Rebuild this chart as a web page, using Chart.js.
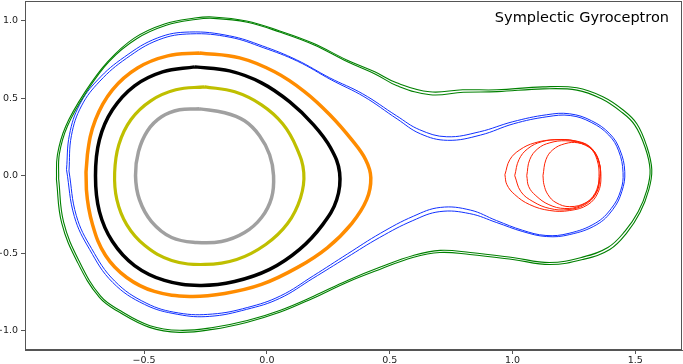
<!DOCTYPE html>
<html lang="en">
  <head>
    <meta charset="UTF-8" />
    <title>Symplectic Gyroceptron</title>
    <style>
      html, body { margin: 0; padding: 0; background: #fff; }
      #wrap { width: 683px; height: 364px; position: relative; }
    </style>
  </head>
  <body>
    <div id="wrap"><canvas id="phaseChart"></canvas></div>

    <script src="https://cdn.jsdelivr.net/npm/chart.js"></script>
    <script>
      // orbits, [q, p]
      const grayLoop = [
        [-0.274, 0.431], [-0.172, 0.406], [-0.091, 0.354], [-0.030, 0.258], [0.011, 0.135],
        [0.027, 0.0], [0.019, -0.142], [-0.022, -0.270], [-0.091, -0.367], [-0.185, -0.425],
        [-0.286, -0.431], [-0.388, -0.399], [-0.470, -0.296], [-0.519, -0.155], [-0.535, 0.0],
        [-0.523, 0.155], [-0.486, 0.290], [-0.429, 0.380], [-0.356, 0.425]
      ];
      const yellowLoop = [
        [-0.253, 0.573], [-0.131, 0.541], [-0.022, 0.457], [0.064, 0.335], [0.121, 0.180],
        [0.150, 0.019], [0.137, -0.142], [0.084, -0.309], [-0.005, -0.444], [-0.123, -0.541],
        [-0.253, -0.573], [-0.388, -0.547], [-0.497, -0.451], [-0.571, -0.316], [-0.611, -0.155],
        [-0.620, 0.019], [-0.603, 0.200], [-0.554, 0.361], [-0.473, 0.483], [-0.371, 0.554]
      ];
      const blackLoop = [
        [-0.294, 0.702], [-0.152, 0.676], [-0.022, 0.599], [0.093, 0.476], [0.190, 0.328],
        [0.259, 0.180], [0.296, 0.019], [0.284, -0.155], [0.227, -0.316], [0.133, -0.476],
        [0.011, -0.605], [-0.132, -0.683], [-0.274, -0.708], [-0.417, -0.676], [-0.539, -0.580],
        [-0.629, -0.425], [-0.682, -0.232], [-0.698, 0.0], [-0.682, 0.232], [-0.629, 0.425],
        [-0.539, 0.580], [-0.425, 0.670]
      ];
      const orangeLoop = [
        [-0.274, 0.792], [-0.111, 0.760], [0.031, 0.670], [0.154, 0.541], [0.256, 0.393],
        [0.345, 0.232], [0.402, 0.103], [0.423, -0.013], [0.406, -0.155], [0.345, -0.309],
        [0.247, -0.464], [0.125, -0.592], [-0.022, -0.702], [-0.172, -0.760], [-0.315, -0.779],
        [-0.458, -0.747], [-0.571, -0.657], [-0.657, -0.515], [-0.710, -0.316], [-0.735, -0.090],
        [-0.731, 0.135], [-0.698, 0.361], [-0.629, 0.554], [-0.527, 0.695], [-0.404, 0.773]
      ];
      const blueLoop = [
        [-0.816, 0.039], [-0.804, 0.264], [-0.763, 0.457], [-0.689, 0.618], [-0.580, 0.766],
        [-0.445, 0.889], [-0.315, 0.927], [-0.152, 0.902], [-0.018, 0.837], [0.121, 0.747],
        [0.256, 0.631], [0.390, 0.528], [0.528, 0.386], [0.622, 0.296], [0.732, 0.251],
        [0.866, 0.283], [1.001, 0.348], [1.139, 0.393], [1.233, 0.399], [1.322, 0.354],
        [1.396, 0.270], [1.437, 0.167], [1.457, 0.026], [1.445, -0.103], [1.408, -0.219],
        [1.343, -0.316], [1.233, -0.380], [1.139, -0.393], [1.042, -0.361], [0.936, -0.303],
        [0.826, -0.245], [0.704, -0.232], [0.594, -0.290], [0.459, -0.399], [0.325, -0.528],
        [0.187, -0.663], [0.052, -0.792], [-0.083, -0.863], [-0.233, -0.908], [-0.363, -0.895],
        [-0.498, -0.831], [-0.628, -0.689], [-0.722, -0.476], [-0.784, -0.264]
      ];
      const blueLoop2 = [
        [-0.806, 0.030], [-0.796, 0.258], [-0.755, 0.450], [-0.680, 0.610], [-0.572, 0.757],
        [-0.440, 0.877], [-0.310, 0.915], [-0.150, 0.893], [-0.015, 0.826], [0.125, 0.738],
        [0.262, 0.618], [0.395, 0.510], [0.530, 0.366], [0.625, 0.270], [0.735, 0.228],
        [0.870, 0.262], [1.005, 0.335], [1.140, 0.380], [1.235, 0.388], [1.320, 0.344],
        [1.392, 0.262], [1.432, 0.160], [1.450, 0.020], [1.440, -0.098], [1.402, -0.212],
        [1.338, -0.306], [1.230, -0.372], [1.136, -0.386], [1.040, -0.352], [0.935, -0.290],
        [0.828, -0.222], [0.706, -0.205], [0.596, -0.262], [0.462, -0.372], [0.328, -0.505],
        [0.190, -0.645], [0.055, -0.776], [-0.080, -0.851], [-0.222, -0.893], [-0.360, -0.886],
        [-0.492, -0.822], [-0.620, -0.680], [-0.714, -0.470], [-0.776, -0.258]
      ];
      const greenLoop = [
        [-0.857, -0.026], [-0.853, 0.135], [-0.820, 0.316], [-0.743, 0.534], [-0.649, 0.734],
        [-0.539, 0.889], [-0.417, 0.979], [-0.294, 1.017], [-0.221, 1.024], [-0.083, 0.998],
        [0.052, 0.934], [0.186, 0.856], [0.325, 0.747], [0.439, 0.670], [0.528, 0.599],
        [0.663, 0.541], [0.797, 0.554], [0.936, 0.554], [1.123, 0.573], [1.262, 0.567],
        [1.368, 0.509], [1.449, 0.425], [1.506, 0.335], [1.547, 0.187], [1.567, 0.039],
        [1.555, -0.090], [1.519, -0.238], [1.466, -0.367], [1.396, -0.476], [1.286, -0.541],
        [1.152, -0.573], [1.001, -0.541], [0.826, -0.509], [0.704, -0.496], [0.594, -0.528],
        [0.459, -0.605], [0.325, -0.689], [0.186, -0.792], [0.052, -0.882], [-0.083, -0.947],
        [-0.221, -0.992], [-0.356, -1.011], [-0.478, -0.979], [-0.600, -0.882], [-0.682, -0.786],
        [-0.771, -0.560], [-0.836, -0.303]
      ];
      const greenLoop2 = [
        [-0.848, -0.020], [-0.845, 0.140], [-0.812, 0.320], [-0.735, 0.540], [-0.642, 0.738],
        [-0.532, 0.882], [-0.410, 0.970], [-0.290, 1.008], [-0.218, 1.015], [-0.080, 0.990],
        [0.055, 0.925], [0.190, 0.845], [0.328, 0.735], [0.442, 0.655], [0.530, 0.580],
        [0.665, 0.522], [0.800, 0.538], [0.938, 0.542], [1.125, 0.560], [1.262, 0.552],
        [1.362, 0.496], [1.440, 0.415], [1.497, 0.328], [1.540, 0.182], [1.560, 0.036],
        [1.548, -0.088], [1.512, -0.232], [1.458, -0.358], [1.388, -0.464], [1.280, -0.528],
        [1.150, -0.560], [1.000, -0.528], [0.828, -0.496], [0.706, -0.482], [0.596, -0.515],
        [0.462, -0.590], [0.328, -0.676], [0.190, -0.778], [0.055, -0.868], [-0.080, -0.935],
        [-0.220, -0.980], [-0.355, -0.998], [-0.476, -0.968], [-0.596, -0.872], [-0.677, -0.778],
        [-0.764, -0.553], [-0.828, -0.298]
      ];
      const redLoop1 = [
        [0.969, 0.006], [0.989, 0.103], [1.030, 0.167], [1.091, 0.212], [1.172, 0.232],
        [1.254, 0.225], [1.315, 0.187], [1.348, 0.103], [1.360, -0.006], [1.348, -0.109],
        [1.307, -0.187], [1.233, -0.225], [1.152, -0.225], [1.070, -0.187], [1.009, -0.122],
        [0.977, -0.058]
      ];
      const redLoop2 = [
        [1.009, 0.0], [1.026, 0.103], [1.062, 0.174], [1.119, 0.219], [1.193, 0.232],
        [1.266, 0.219], [1.323, 0.174], [1.352, 0.090], [1.356, -0.013], [1.340, -0.116],
        [1.295, -0.187], [1.226, -0.219], [1.152, -0.212], [1.083, -0.167], [1.034, -0.103]
      ];
      const redLoop3 = [
        [1.058, 0.0], [1.070, 0.103], [1.103, 0.174], [1.152, 0.212], [1.217, 0.225],
        [1.282, 0.206], [1.331, 0.155], [1.356, 0.064], [1.352, -0.039], [1.327, -0.135],
        [1.278, -0.193], [1.213, -0.212], [1.148, -0.187], [1.095, -0.129], [1.066, -0.071]
      ];
      const redLoop4 = [
        [1.124, 0.0], [1.136, 0.103], [1.164, 0.167], [1.213, 0.206], [1.266, 0.212],
        [1.315, 0.180], [1.344, 0.103], [1.352, -0.006], [1.340, -0.109], [1.299, -0.174],
        [1.233, -0.200], [1.177, -0.174], [1.144, -0.122], [1.128, -0.058]
      ];

      const xTicks = [-0.5, 0.0, 0.5, 1.0, 1.5];
      const yTicks = [-1.0, -0.5, 0.0, 0.5, 1.0];
      const titleText = "Symplectic Gyroceptron";

      // close each loop and turn into {x, y}
      function loop(pts) {
        const out = pts.map((p) => ({ x: p[0], y: p[1] }));
        out.push({ x: pts[0][0], y: pts[0][1] });
        return out;
      }

      function orbit(pts, color, width) {
        return {
          data: loop(pts),
          showLine: true,
          borderColor: color,
          borderWidth: width,
          pointRadius: 0,
          tension: 0.4,
          fill: false,
        };
      }

      const fmt = (v) => v.toFixed(1).replace("-", "\u2212");

      // matplotlib-style frame + title inside the axes
      const framePlugin = {
        id: "frame",
        afterDraw(chart) {
          const { ctx, chartArea: a } = chart;
          ctx.save();
          ctx.strokeStyle = "#555";
          ctx.lineWidth = 1;
          ctx.strokeRect(a.left + 0.5, a.top + 0.5, a.right - a.left - 1, a.bottom - a.top - 1);
          ctx.fillStyle = "#000";
          ctx.font = "14.5px 'DejaVu Sans'";
          ctx.textAlign = "right";
          ctx.textBaseline = "alphabetic";
          ctx.fillText(titleText, a.right - 13, 22);
          ctx.restore();
        },
      };

      new Chart(document.getElementById("phaseChart"), {
        type: "scatter",
        data: {
          datasets: [
            orbit(greenLoop, "#008000", 1.1),
            orbit(greenLoop2, "#008000", 1.1),
            orbit(blueLoop, "#1030ff", 1),
            orbit(blueLoop2, "#1030ff", 1),
            orbit(orangeLoop, "#ff8c00", 3.5),
            orbit(blackLoop, "#000000", 3.5),
            orbit(yellowLoop, "#bfbf00", 3.2),
            orbit(grayLoop, "#a0a0a0", 3.5),
            orbit(redLoop1, "#ff2000", 1),
            orbit(redLoop2, "#ff2000", 1),
            orbit(redLoop3, "#ff2000", 1),
            orbit(redLoop4, "#ff2000", 1),
          ],
        },
        options: {
          responsive: true,
          maintainAspectRatio: false,
          animation: false,
          layout: { padding: { top: 1, right: 1, left: 0, bottom: 0 } },
          plugins: {
            legend: { display: false },
            tooltip: { enabled: false },
          },
          scales: {
            x: {
              type: "linear",
              min: -0.985,
              max: 1.69,
              afterBuildTicks: (s) => { s.ticks = xTicks.map((v) => ({ value: v })); },
              afterFit: (s) => {
                s.height = 14;
                s.paddingLeft = 0;
                s.paddingRight = 0;
              },
              grid: { drawOnChartArea: false, tickLength: 4, color: "#555" },
              border: { color: "#555" },
              ticks: {
                callback: fmt,
                color: "#222",
                padding: 1,
                maxRotation: 0,
                font: { family: "'DejaVu Sans'", size: 9.5 },
              },
            },
            y: {
              type: "linear",
              min: -1.125,
              max: 1.127,
              afterBuildTicks: (s) => { s.ticks = yTicks.map((v) => ({ value: v })); },
              afterFit: (s) => {
                s.width = 25;
                s.paddingTop = 0;
                s.paddingBottom = 0;
              },
              grid: { drawOnChartArea: false, tickLength: 4, color: "#555" },
              border: { color: "#555" },
              ticks: {
                callback: fmt,
                color: "#222",
                padding: 3,
                font: { family: "'DejaVu Sans'", size: 9.5 },
              },
            },
          },
        },
        plugins: [framePlugin],
      });
    </script>
  </body>
</html>
